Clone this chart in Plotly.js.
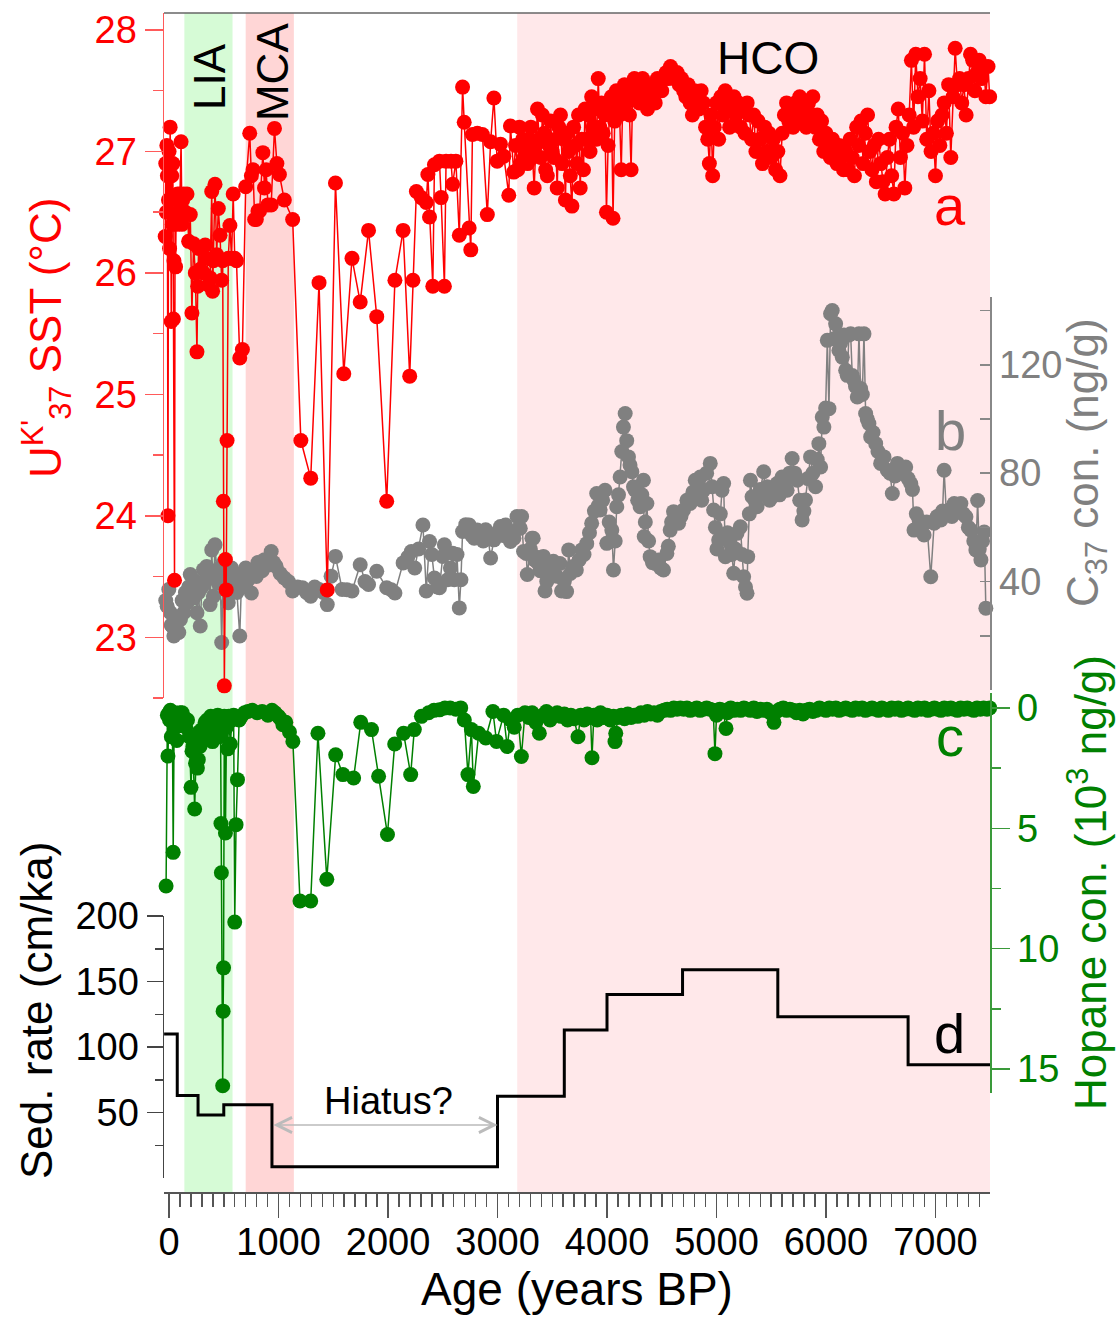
<!DOCTYPE html>
<html><head><meta charset="utf-8">
<script src="https://cdn.plot.ly/plotly-3.0.1.min.js"></script>
<style>html,body{margin:0;padding:0;background:#fff}#chart{width:1120px;height:1318px}</style>
</head><body><div id="chart"></div>
<script>
// (a) Uk'37 SST, [age yr BP, °C]
const sstData = [
[-35,26.3],[-30,26.9],[-25,26.5],[-20,27.05],[-15,26.8],[-10,24.0],[-5,26.6],[0,27.0],[5,26.2],[10,27.2],[15,26.9],[20,25.6],[25,26.8],[30,26.4],[35,26.9],[40,25.62],[45,26.1],[50,23.47],[55,26.45],[60,26.05],[66,26.6],[72,26.4],[78,26.65],[85,26.5],[92,26.6],[100,26.65],[110,27.08],[118,26.4],[125,26.6],[134,26.65],[150,26.5],[164,26.65],[179,26.26],[194,26.48],[209,25.67],[224,26.24],[240,26.0],[255,25.35],[262,25.89],[270,26.2],[285,26.03],[300,26.21],[315,26.0],[330,26.23],[345,26.12],[360,25.9],[375,25.96],[390,26.67],[398,25.85],[405,26.1],[420,26.73],[435,26.15],[450,26.53],[466,26.31],[480,25.94],[490,26.1],[496,24.12],[505,22.6],[515,23.64],[522,23.39],[530,24.62],[541,26.12],[556,26.39],[571,26.12],[586,26.65],[600,26.12],[616,26.1],[646,25.3],[670,25.37],[700,26.71],[737,27.15],[752,26.8],[767,26.85],[782,26.44],[797,26.44],[812,26.51],[827,26.51],[857,26.99],[872,26.7],[887,26.85],[903,26.56],[933,26.56],[963,27.19],[985,26.9],[1008,26.81],[1053,26.6],[1129,26.44],
[1204,24.62],[1294,24.31],[1370,25.92],[1445,23.39],[1520,26.74],[1596,25.17],[1671,26.12],[1746,25.76],[1822,26.35],[1897,25.64],[1988,24.12],[2063,25.94],[2138,26.35],[2198,25.15],[2228,25.94],[2259,26.67],[2304,26.62],[2349,26.58],[2364,26.81],[2379,26.46],[2409,25.89],[2424,26.89],[2470,26.92],[2485,26.62],[2515,25.89],[2530,26.92],[2575,26.92],[2590,26.73],[2620,26.92],[2651,26.31],[2681,27.53],[2696,27.24],[2741,26.37],[2756,26.19],[2771,27.14],[2816,27.15],[2862,27.14],[2907,26.48],[2937,27.08],[2967,27.44],[2997,26.92],[3027,27.06],[3058,26.96],[3103,26.64],[3118,27.21],[3148,26.83],
[3165,27.05],[3185,26.85],[3200,27.2],[3215,26.9],[3230,27.1],[3245,26.95],[3260,27.0],[3275,26.9],[3290,27.1],[3305,27.2],[3320,26.95],[3335,26.7],[3350,27.05],[3365,27.35],[3380,27.1],[3395,26.95],[3410,27.3],[3425,27.15],[3440,26.85],[3455,26.8],[3470,27.05],[3485,27.25],[3500,27.0],[3515,26.95],[3530,27.1],[3545,26.7],[3560,27.2],[3575,27.3],[3590,26.9],[3605,27.1],[3620,26.6],[3635,27.15],[3650,27.0],[3665,26.8],[3680,26.55],[3695,27.2],[3710,27.05],[3725,26.9],[3740,27.3],[3755,26.7],[3770,27.1],[3785,26.85],[3800,27.35],[3815,27.1],[3830,27.3],[3845,27.0],[3860,27.45],[3875,27.2],[3890,27.35],[3905,27.1],[3920,27.6],[3935,27.2],[3950,27.4],[3965,27.15],[3980,27.3],[3995,26.5],[4010,27.05],[4025,27.35],[4040,27.45],[4055,26.45],[4070,27.25],[4085,27.5],[4100,27.4],[4115,27.3],[4130,26.85],[4145,27.45],[4160,27.55],[4175,27.4],[4190,27.5],[4205,27.3],[4220,26.85],[4235,27.5],[4250,27.6],[4265,27.45],[4280,27.55],[4295,27.4],[4310,27.5],[4325,27.6],[4340,27.45],[4355,27.55],[4370,27.35],[4385,27.5],[4400,27.45],[4420,27.55],[4440,27.4],[4460,27.6],[4480,27.55],[4500,27.5],[4520,27.6],[4540,27.65],[4560,27.6],[4580,27.7],[4600,27.65],[4620,27.6],[4640,27.65],[4660,27.55],[4680,27.6],[4700,27.5],[4720,27.45],[4740,27.55],[4760,27.4],[4780,27.3],[4800,27.5],[4820,27.45],[4840,27.35],[4860,27.5],[4880,27.4],[4900,27.2],[4920,27.1],[4935,26.9],[4950,27.3],[4965,26.8],[4980,27.2],[5000,27.4],[5020,27.1],[5040,27.45],[5060,27.3],[5080,27.5],[5100,27.4],[5120,27.2],[5140,27.35],[5160,27.45],[5180,27.3],[5200,27.4],[5220,27.2],[5240,27.35],[5260,27.15],[5280,27.4],[5300,27.3],[5320,27.1],[5340,27.3],[5360,27.0],[5380,27.25],[5400,27.1],[5420,26.9],[5440,27.2],[5460,27.0],[5480,27.15],[5500,26.95],[5520,27.1],[5540,26.85],[5560,27.0],[5580,26.8],[5600,27.15],[5620,27.3],[5640,27.4],[5660,27.25],[5680,27.35],[5700,27.2],[5720,27.4],[5740,27.3],[5760,27.45],[5780,27.25],[5800,27.35],[5820,27.2],[5840,27.4],[5860,27.3],[5880,27.45],[5900,27.2],[5920,27.3],[5940,27.1],[5960,27.25],[5980,27.0],[6000,27.15],[6020,27.05],[6040,26.95],[6060,27.1],[6080,27.0],[6100,26.9],[6120,27.05],[6140,26.95],[6160,26.85],[6180,27.0],[6200,26.85],[6220,27.1],[6240,26.95],[6260,26.8],[6280,27.2],[6300,27.05],[6320,27.25],[6340,26.9],[6360,27.15],[6380,27.3],[6400,27.0],[6420,26.85],[6440,27.05],[6460,26.75],[6480,27.1],[6500,26.9],[6520,26.75],[6540,26.65],[6560,26.95],[6580,27.1],[6600,26.8],[6620,26.65],[6640,27.2],[6660,27.35],[6680,26.95],[6700,27.15],[6720,26.7],[6740,27.05],[6760,27.3],[6780,27.75],[6800,27.2],[6820,27.8],[6840,27.45],[6860,27.6],[6880,27.25],[6900,27.8],[6920,27.1],[6940,27.5],[6960,27.0],[6980,27.15],[7000,26.8],[7020,27.25],[7040,27.05],[7060,27.3],[7080,27.4],[7100,27.15],[7120,27.55],[7140,26.95],[7160,27.45],[7180,27.85],[7200,27.55],[7220,27.6],[7240,27.4],[7260,27.55],[7280,27.3],[7300,27.6],[7320,27.8],[7340,27.75],[7360,27.5],[7380,27.65],[7400,27.75],[7420,27.6],[7440,27.7],[7460,27.45],[7480,27.7],[7495,27.45]
];
// (b) C37 alkenone concentration, [age, ng/g]
const c37Data = [
[-30,33],[-17,30.9],[-2,37.1],[13,28.5],[20,24],[28,23.6],[44,19.9],[60,25],[75,22],[89,21.2],[104,26],[120,33],[134,28.5],[150,36],[164,32.2],[180,38],[194,42.6],[209,38.3],[225,34],[240,40.1],[255,28.5],[270,36],[285,23.6],[300,38],[315,44.4],[330,40],[345,45.6],[360,42],[375,31.5],[390,51.7],[405,34.6],[420,53.6],[435,44],[450,39.5],[465,45],[481,17.5],[496,46.9],[511,38],[526,40.7],[541,32.2],[556,41.9],[571,45],[586,37],[601,40.7],[620,36],[646,19.9],[660,38],[677,43.2],[700,45],[722,40.7],[737,44],[752,35.8],[775,43],[797,41.9],[812,47],[827,45.6],[850,44],[873,48.1],[900,46],[933,51.1],[955,47],[978,45.6],[1015,43],[1053,41.3],[1090,40],[1129,36.5],[1175,38],[1219,37.7],[1255,36],[1294,34.6],[1330,38],[1370,37.1],[1410,36],[1445,31.5],[1480,42],[1520,49.3],[1581,37.1],[1625,37],[1671,36.5],[1746,46.2],[1790,40],[1822,38.9],[1897,43.8],[1988,37.7],[2030,37],[2063,35.8],[2138,46.9],[2180,49],[2213,51.1],[2244,45],[2280,52],[2319,60.9],[2349,36.5],[2379,54.8],[2400,50],[2424,41.3],[2450,38],[2470,37.7],[2500,49.3],[2515,53.6],[2545,40.7],[2570,45],[2590,50.5],[2605,40.7],[2630,50],[2651,30.3],[2666,40.7],[2681,58.5],[2710,61],[2741,60.9],[2765,57],[2787,56],[2815,59],[2847,58.5],[2870,55],[2892,59.1],[2915,56],[2937,48.7],[2967,55.4],[3000,58],[3027,60.3],[3050,57],[3073,60.9],[3095,58],[3118,54.8],[3150,56],[3178,64],[3193,59.7],[3208,59.7],[3220,64],[3238,51.1],[3262,50.4],[3272,42.6],[3300,52],[3314,56],[3326,56],[3340,48],[3357,49],[3370,46.9],[3390,44],[3419,49.3],[3434,36.5],[3450,40],[3465,43],[3479,45.5],[3510,47.5],[3540,42],[3570,46.7],[3585,36.5],[3610,40],[3631,36.3],[3650,51.7],[3665,43],[3690,45.6],[3720,44.3],[3745,48],[3770,51.7],[3790,50],[3815,54],[3840,58],[3860,61.5],[3885,66],[3906,72.5],[3920,68],[3937,66.4],[3960,70],[3982,73.7],[3998,54.1],[4020,62],[4044,59],[4059,44.3],[4075,55],[4089,67.6],[4105,72],[4120,78.6],[4135,88],[4150,97],[4166,102],[4180,92],[4196,86],[4210,83],[4227,80.5],[4242,75],[4257,73.7],[4280,70],[4303,67.6],[4318,72],[4333,77.4],[4340,56.6],[4350,62],[4364,68.8],[4380,55],[4394,49.2],[4415,47],[4440,46.7],[4470,48],[4490,45],[4516,44.3],[4547,50.4],[4560,53],[4577,59],[4590,62],[4608,65.8],[4630,63],[4654,61.5],[4675,64],[4699,66.4],[4730,70],[4760,68.8],[4785,73],[4806,77.4],[4830,74],[4852,78.6],[4865,70],[4882,73.7],[4910,80],[4943,83.6],[4960,75],[4974,66.4],[4990,60],[5004,52],[5020,55.3],[5035,65],[5050,73.7],[5065,76.2],[5081,49.2],[5100,58],[5126,54.1],[5140,50],[5157,43.1],[5172,52],[5187,57.8],[5218,60.2],[5233,50],[5248,41.8],[5265,38],[5279,35.7],[5285,49.2],[5300,65],[5310,77.4],[5325,71.3],[5350,70],[5370,67.6],[5400,74],[5431,80.5],[5446,72],[5462,75],[5485,70],[5508,71.3],[5530,74],[5554,76.2],[5575,72],[5599,78.6],[5620,76],[5645,73.7],[5668,80],[5691,85.4],[5715,80],[5737,77.4],[5760,70],[5782,62.7],[5798,66],[5813,70.1],[5835,78],[5859,86],[5880,80],[5905,75],[5920,85],[5935,90.9],[5951,82.3],[5966,100.7],[5981,97],[5997,104],[6012,129],[6027,103.8],[6042,138.8],[6057,140],[6073,129.6],[6088,135.1],[6103,130],[6118,125.3],[6134,128],[6149,122.8],[6165,131],[6180,118],[6194,116.1],[6210,131],[6225,131.4],[6240,116],[6255,114.2],[6270,112],[6286,108.1],[6301,131.4],[6316,111.2],[6332,109],[6347,131.4],[6362,102],[6377,100],[6392,98.3],[6408,93.4],[6430,95],[6454,90.9],[6475,88],[6499,83.6],[6530,86],[6560,81.1],[6585,80],[6606,72.5],[6630,79],[6652,83.6],[6690,80],[6728,82.3],[6750,78],[6774,76.2],[6790,74],[6804,59],[6825,65],[6850,62.7],[6870,60],[6896,57.2],[6920,62],[6957,41.8],[6988,61.5],[7015,64],[7049,62.7],[7065,66],[7079,81.1],[7100,65],[7125,66.4],[7150,64],[7171,68.8],[7200,67],[7232,68.8],[7255,65],[7278,63.9],[7300,60],[7323,59],[7350,55],[7369,51.7],[7385,69.9],[7400,52],[7415,48],[7430,55],[7445,58.3],[7460,30.2]
];
// (c) Hopane concentration, [age, 10^3 ng/g]
const hopData = [
[-27,7.4],[-15,0.3],[-10,2.0],[0,0.2],[5,0.5],[12,0.1],[21,1.2],[30,0.3],[38,6.0],[47,0.4],[55,0.2],[63,0.8],[71,1.35],[80,0.3],[88,0.5],[100,0.2],[110,0.6],[120,0.2],[135,0.4],[153,0.8],[169,0.5],[185,1.2],[201,3.3],[210,1.8],[218,1.6],[234,4.2],[242,2.3],[250,1.4],[259,2.5],[267,2.15],[275,1.0],[283,1.6],[300,0.9],[315,1.2],[330,0.6],[348,0.5],[365,1.0],[381,0.35],[397,1.4],[414,0.6],[430,0.8],[445,0.3],[453,0.35],[462,1.2],[470,0.4],[474,4.8],[478,6.85],[490,15.7],[494,12.6],[498,10.8],[505,0.35],[515,5.2],[525,0.8],[535,1.7],[545,0.35],[560,1.5],[575,0.5],[590,0.3],[600,8.9],[612,4.85],[625,2.98],[640,0.5],[660,0.35],[690,0.2],[720,0.15],[760,0.1],[805,0.2],[850,0.15],[903,0.3],[940,0.1],[968,0.2],[1000,0.35],[1017,0.45],[1040,0.7],[1066,0.6],[1100,1.0],[1131,1.39],[1196,8.02],[1294,8.02],[1360,1.05],[1441,7.12],[1522,1.95],[1588,2.77],[1686,2.91],[1751,0.6],[1849,0.9],[1914,2.84],[1995,5.26],[2061,1.5],[2142,1.05],[2207,2.77],[2240,0.9],[2305,0.35],[2371,0.2],[2420,0.1],[2469,0.08],[2520,0.0],[2567,0.0],[2620,0.05],[2664,0.0],[2697,0.5],[2730,2.77],[2762,0.9],[2779,3.26],[2828,1.05],[2893,1.25],[2958,0.15],[2991,1.39],[3056,0.3],[3088,1.6],[3120,0.5],[3153,0.8],[3185,0.3],[3218,2.02],[3251,0.2],[3285,0.4],[3316,0.2],[3350,0.6],[3382,1.05],[3415,0.3],[3447,0.15],[3480,0.5],[3510,0.3],
[3545,0.2],[3580,0.35],[3610,0.25],[3640,0.5],[3670,0.3],[3700,0.45],[3735,1.2],[3760,0.3],[3790,0.5],[3820,0.25],[3850,0.4],[3863,2.07],[3880,0.3],[3910,0.5],[3940,0.2],[3970,0.4],[4000,0.3],[4030,0.5],[4060,0.35],[4073,1.4],[4080,1.05],[4100,0.4],[4130,0.3],[4160,0.45],[4190,0.25],[4220,0.4],[4250,0.3],[4280,0.35],[4310,0.2],[4340,0.3],[4370,0.15],[4400,0.25],[4430,0.2],[4460,0.3],[4490,0.15],[4520,0.1],[4550,0.05],[4580,0.1],[4610,0.0],[4640,0.05],[4670,0.0],[4700,0.05],[4730,0.0],[4760,0.1],[4790,0.05],[4820,0.0],[4850,0.1],[4880,0.05],[4910,0.0],[4940,0.05],[4970,0.1],[4986,1.9],[5000,0.3],[5030,0.05],[5060,0.1],[5087,0.85],[5100,0.2],[5130,0.0],[5160,0.1],[5190,0.05],[5220,0.1],[5250,0.0],[5280,0.05],[5310,0.1],[5340,0.0],[5370,0.15],[5400,0.05],[5430,0.1],[5460,0.05],[5490,0.2],[5525,0.6],[5550,0.15],[5580,0.05],[5610,0.0],[5640,0.1],[5670,0.05],[5700,0.1],[5730,0.2],[5760,0.1],[5790,0.25],[5820,0.1],[5850,0.05],[5880,0.15],[5910,0.1],[5940,0.0],[5970,0.05],[6000,0.1],[6030,0.0],[6060,0.05],[6090,0.0],[6120,0.1],[6150,0.05],[6180,0.0],[6210,0.05],[6240,0.1],[6270,0.0],[6300,0.05],[6330,0.0],[6360,0.1],[6390,0.05],[6420,0.0],[6450,0.05],[6480,0.1],[6510,0.0],[6540,0.05],[6570,0.1],[6600,0.0],[6630,0.05],[6660,0.0],[6690,0.1],[6720,0.05],[6750,0.0],[6780,0.05],[6810,0.1],[6840,0.0],[6870,0.05],[6900,0.0],[6930,0.1],[6960,0.05],[6990,0.0],[7020,0.05],[7050,0.1],[7080,0.0],[7110,0.05],[7140,0.0],[7170,0.05],[7200,0.1],[7230,0.0],[7260,0.05],[7290,0.0],[7320,0.05],[7350,0.1],[7380,0.0],[7410,0.05],[7440,0.0],[7470,0.05],[7495,0.0]
];
// (d) Sedimentation rate steps (start age of each interval, cm/ka)
const sedAge  = [-45, 75, 265, 500, 940, 3000, 3610, 4000, 4690, 5560, 6750, 7498];
const sedRate = [110, 63, 48, 56, 8.5, 62.5, 113, 140, 159, 123, 86.5, 86.5];
// climate periods [start, end] and hiatus span
const periods = {LIA:[140,580], MCA:[700,1140], HCO:[3180,7498]};
const hiatus = [940, 3000];
const xTickVals = [0,1000,2000,3000,4000,5000,6000,7000];

const FONT = 'Liberation Sans, Arial, sans-serif';
const RED='#ff0000', GRAY='#808080', GREEN='#008000';
const MS = 15;

const traces = [
 {x:sedAge, y:sedRate, xaxis:'x', yaxis:'y', mode:'lines', line:{shape:'hv', color:'#000', width:3}, cliponaxis:false},
 {x:hopData.map(d=>d[0]), y:hopData.map(d=>d[1]), xaxis:'x', yaxis:'y2', mode:'lines+markers',
  line:{color:GREEN,width:1.5}, marker:{color:GREEN,size:MS}, cliponaxis:false},
 {x:c37Data.map(d=>d[0]), y:c37Data.map(d=>d[1]), xaxis:'x', yaxis:'y3', mode:'lines+markers',
  line:{color:GRAY,width:1.5}, marker:{color:GRAY,size:MS}, cliponaxis:false},
 {x:sstData.map(d=>d[0]), y:sstData.map(d=>d[1]), xaxis:'x', yaxis:'y4', mode:'lines+markers',
  line:{color:RED,width:1.5}, marker:{color:RED,size:MS}, cliponaxis:false}
];

const f = py => (1192-py)/1179;     // helper: pixel row -> paper fraction (layout only)
const fx = px => (px-164)/826;

const tickFont = (c)=>({family:FONT,size:38,color:c});
const lbl = (x, y, text, size, color, angle, xref) => ({xref:xref||'x', yref:'paper', x:x, y:y, text:text, textangle:angle||0,
  showarrow:false, xanchor:'center', yanchor:'middle', font:{family:FONT,size:size,color:color}});
const layout = {
 width:1120, height:1318, margin:{l:164,r:130,t:13,b:126},
 paper_bgcolor:'#fff', plot_bgcolor:'rgba(0,0,0,0)', showlegend:false, hovermode:false,
 font:{family:FONT},
 xaxis:{domain:[0,1], range:[-46,7498], anchor:'free', position:0, showline:true, linecolor:'#555', linewidth:1.5,
   ticks:'outside', ticklen:24, tickwidth:1.5, tickcolor:'#555', tickmode:'array', tickvals:xTickVals, ticklabelstandoff:-8,
   minor:{dtick:100, tick0:0, ticks:'outside', ticklen:13, tickwidth:1.5, tickcolor:'#555'},
   tickfont:tickFont('#000'), showgrid:false, zeroline:false,
   title:{text:'Age (years BP)', font:{family:FONT,size:46,color:'#000'}, standoff:6}},
 yaxis:{domain:[f(1178),f(916)], range:[0,200], anchor:'x', side:'left', showline:true, linecolor:'#444', linewidth:1.5,
   ticks:'outside', ticklen:16, tickwidth:1.5, tickcolor:'#444', tickmode:'array', tickvals:[50,100,150,200],
   minor:{tickmode:'array', tickvals:[25,75,125,175], ticks:'outside', ticklen:8, tickwidth:1.5, tickcolor:'#444'},
   tickfont:tickFont('#000'), showgrid:false, zeroline:false},
 yaxis2:{domain:[f(1093),f(693)], range:[16,-0.62], anchor:'x', side:'right', showline:true, linecolor:'#3a9a3a', linewidth:1.5,
   ticks:'outside', ticklen:18, tickwidth:1.5, tickcolor:'#3a9a3a', tickmode:'array', tickvals:[0,5,10,15],
   minor:{tickmode:'array', tickvals:[2.5,7.5,12.5], ticks:'outside', ticklen:9, tickwidth:1.5, tickcolor:'#3a9a3a'},
   tickfont:tickFont(GREEN), showgrid:false, zeroline:false},
 yaxis3:{domain:[f(690),f(297)], range:[0,145], anchor:'x', side:'right', showline:true, linecolor:'#888', linewidth:1.5,
   ticks:'inside', ticklen:10, tickwidth:1.5, tickcolor:'#888', tickmode:'array', tickvals:[40,80,120],
   minor:{tickmode:'array', tickvals:[20,60,100,140], ticks:'inside', ticklen:10, tickwidth:1.5, tickcolor:'#888'},
   tickfont:tickFont(GRAY), showgrid:false, zeroline:false},
 yaxis4:{domain:[f(698),1], range:[22.5,28.14], anchor:'x', side:'left', showline:true, linecolor:'#ff5a5a', linewidth:1.5,
   ticks:'outside', ticklen:18, tickwidth:1.5, tickcolor:'#ff5a5a', tickmode:'array', tickvals:[23,24,25,26,27,28],
   minor:{tickmode:'array', tickvals:[22.5,23.5,24.5,25.5,26.5,27.5], ticks:'outside', ticklen:10, tickwidth:1.5, tickcolor:'#ff5a5a'},
   tickfont:tickFont(RED), showgrid:false, zeroline:false},
 shapes:[
  {type:'rect', layer:'below', xref:'x', yref:'paper', x0:periods.LIA[0], x1:periods.LIA[1], y0:0, y1:1, fillcolor:'rgb(214,251,214)', line:{width:0}},
  {type:'rect', layer:'below', xref:'x', yref:'paper', x0:periods.MCA[0], x1:periods.MCA[1], y0:0, y1:1, fillcolor:'rgb(255,214,214)', line:{width:0}},
  {type:'rect', layer:'below', xref:'x', yref:'paper', x0:periods.HCO[0], x1:periods.HCO[1], y0:0, y1:1, fillcolor:'rgb(255,232,234)', line:{width:0}},
  {type:'line', layer:'above', xref:'paper', yref:'paper', x0:0, x1:1, y0:1, y1:1, line:{color:'#666', width:1.5}}
 ],
 annotations:[
  lbl(fx(47), f(338), "U<sup>K'</sup><sub>37</sub> SST (°C)", 44, RED, -90, 'paper'),
  lbl(fx(36), f(1011), 'Sed. rate (cm/ka)', 44, '#000', -90, 'paper'),
  lbl(fx(1086), f(463), 'C<sub>37</sub> con. (ng/g)', 44, GRAY, -90, 'paper'),
  lbl(fx(1087), f(883), 'Hopane con. (10<sup>3</sup> ng/g)', 44, GREEN, -90, 'paper'),
  lbl(365, f(77), 'LIA', 44, '#000', -90),
  lbl(950, f(72), 'MCA', 44, '#000', -90),
  lbl(5470, f(58), 'HCO', 46, '#000', 0),
  lbl(7132, f(206), 'a', 56, RED, 0),
  lbl(7141, f(430), 'b', 56, GRAY, 0),
  lbl(7132, f(737), 'c', 56, GREEN, 0),
  lbl(7132, f(1033), 'd', 56, '#000', 0),
  {xref:'x', yref:'y', x:2000, y:59, text:'Hiatus?', showarrow:false, xanchor:'center', yanchor:'middle', font:{family:FONT,size:38,color:'#000'}},
  {xref:'x', yref:'y', x:hiatus[1], y:40.5, axref:'x', ayref:'y', ax:hiatus[0], ay:40.5, text:'', showarrow:true,
   arrowhead:5, startarrowhead:5, arrowside:'end+start', arrowsize:2, startarrowsize:2, arrowwidth:1.5, arrowcolor:'#bbbbbb', standoff:0, startstandoff:0}
 ]
};
Plotly.newPlot('chart', traces, layout, {displayModeBar:false, staticPlot:true});
</script></body></html>
